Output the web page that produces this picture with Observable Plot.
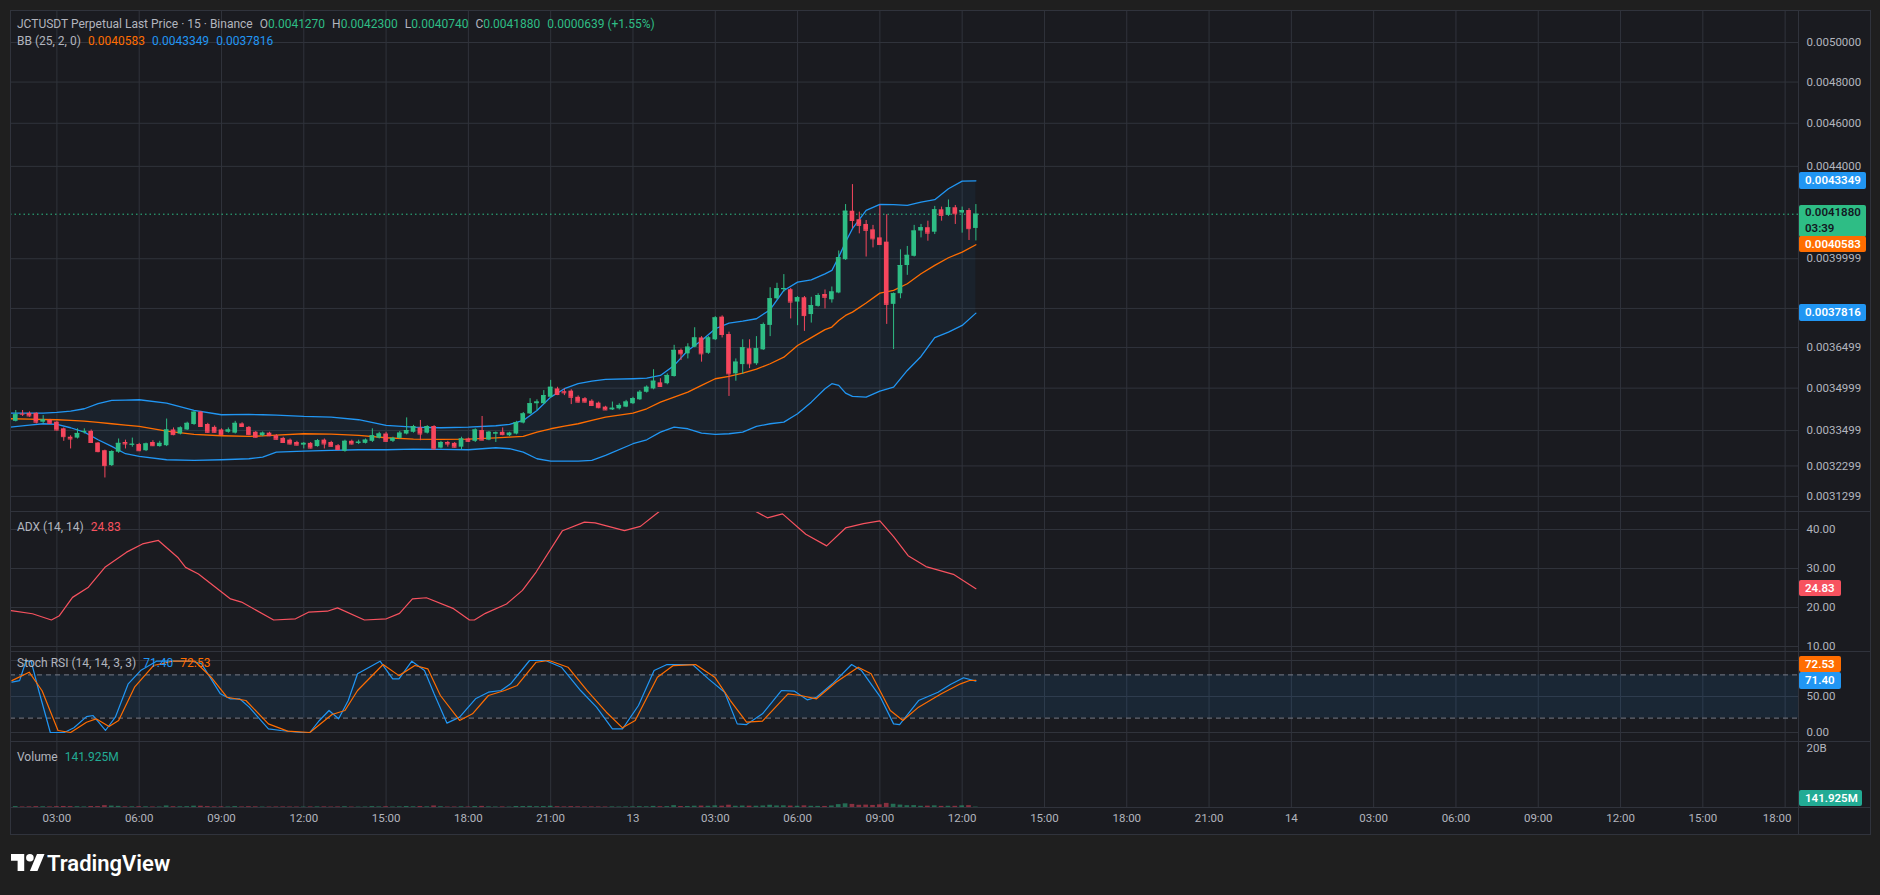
<!DOCTYPE html>
<html>
<head>
<meta charset="utf-8">
<script src="https://cdn.jsdelivr.net/npm/d3@7"></script>
<script src="https://cdn.jsdelivr.net/npm/@observablehq/plot@0.6"></script>
<style>
html,body{margin:0;padding:0;background:#1f1f1f;overflow:hidden;}
#root{position:relative;width:1880px;height:895px;overflow:hidden;background:#1f1f1f;font-family:Roboto,"Noto Sans",sans-serif;}
#chartbg{position:absolute;left:10px;top:10px;width:1860px;height:824px;background:#1a1b20;}
.pane{position:absolute;left:0;}
.pane svg{display:block;overflow:visible;}
.hline{position:absolute;height:1px;background:#30333c;}
.vline{position:absolute;width:1px;background:#30333c;}
.legend{position:absolute;left:17px;font-size:12px;line-height:14px;color:#b2b5be;white-space:nowrap;}
.legend .gap{margin-left:7px}
.tag{position:absolute;left:1799px;font-size:11.5px;font-weight:600;line-height:16.5px;padding:0 0 0 6px;border-radius:2px;box-sizing:border-box;white-space:nowrap;}
#logo{position:absolute;left:11px;top:850px;display:flex;align-items:center;color:#fff;font-size:22px;font-weight:600;font-family:Roboto,sans-serif;}
</style>
</head>
<body>
<div id="root"><div id="chartbg"></div></div>
<script>
// ---------------- DATA ----------------
const barStartHour = 1.25;          // first visible bar 01:15 (hours since 12th 00:00)
const barStepHour = 0.25;           // 15-minute bars
const open = [
0.003396,0.003382,0.003408,0.003410,0.003410,0.003379,0.003385,0.003379,0.003356,0.003327,
0.003324,0.003344,0.003347,0.003307,0.003281,0.003231,0.003276,0.003309,0.003300,0.003302,
0.003281,0.003309,0.003295,0.003298,0.003352,0.003338,0.003352,0.003371,0.003414,0.003371,
0.003361,0.003352,0.003344,0.003341,0.003373,0.003361,0.003344,0.003332,0.003341,0.003332,
0.003323,0.003317,0.003309,0.003300,0.003306,0.003295,0.003317,0.003309,0.003298,0.003279,
0.003313,0.003306,0.003306,0.003313,0.003324,0.003338,0.003313,0.003323,0.003338,0.003344,
0.003359,0.003341,0.003364,0.003290,0.003309,0.003306,0.003293,0.003321,0.003313,0.003350,
0.003317,0.003338,0.003344,0.003332,0.003338,0.003376,0.003408,0.003444,0.003444,0.003467,
0.003497,0.003487,0.003489,0.003467,0.003462,0.003453,0.003446,0.003432,0.003422,0.003426,
0.003432,0.003444,0.003458,0.003485,0.003497,0.003519,0.003516,0.003542,0.003639,0.003626,
0.003651,0.003686,0.003628,0.003679,0.003766,0.003699,0.003552,0.003586,0.003645,0.003589,
0.003641,0.003734,0.003838,0.003874,0.003874,0.003825,0.003842,0.003776,0.003808,0.003855,
0.003834,0.003861,0.003996,0.004201,0.004164,0.004144,0.004121,0.004087,0.004069,0.003816,
0.003858,0.003972,0.004010,0.004116,0.004130,0.004111,0.004207,0.004183,0.004216,0.004193,
0.004204,0.004127];
const high = [
0.003400,0.003420,0.003420,0.003415,0.003412,0.003402,0.003389,0.003382,0.003359,0.003332,
0.003356,0.003356,0.003352,0.003309,0.003283,0.003281,0.003321,0.003317,0.003324,0.003306,
0.003307,0.003315,0.003313,0.003390,0.003359,0.003363,0.003379,0.003417,0.003417,0.003375,
0.003366,0.003356,0.003359,0.003382,0.003377,0.003364,0.003347,0.003345,0.003344,0.003336,
0.003327,0.003321,0.003313,0.003309,0.003309,0.003319,0.003321,0.003313,0.003302,0.003317,
0.003317,0.003317,0.003321,0.003356,0.003344,0.003344,0.003327,0.003347,0.003394,0.003368,
0.003385,0.003367,0.003367,0.003313,0.003313,0.003309,0.003327,0.003324,0.003356,0.003399,
0.003347,0.003345,0.003359,0.003344,0.003382,0.003413,0.003462,0.003458,0.003491,0.003528,
0.003503,0.003497,0.003494,0.003472,0.003466,0.003458,0.003450,0.003435,0.003450,0.003444,
0.003456,0.003467,0.003491,0.003508,0.003567,0.003534,0.003552,0.003658,0.003644,0.003664,
0.003725,0.003691,0.003691,0.003768,0.003771,0.003708,0.003607,0.003679,0.003679,0.003691,
0.003743,0.003882,0.003900,0.003935,0.003879,0.003847,0.003847,0.003844,0.003858,0.003873,
0.003885,0.004032,0.004230,0.004318,0.004197,0.004161,0.004140,0.004226,0.004186,0.003861,
0.004037,0.004051,0.004140,0.004144,0.004158,0.004222,0.004219,0.004250,0.004226,0.004219,
0.004212,0.004230];
const low = [
0.003381,0.003380,0.003399,0.003396,0.003373,0.003373,0.003371,0.003348,0.003313,0.003287,
0.003321,0.003338,0.003306,0.003274,0.003190,0.003228,0.003272,0.003287,0.003293,0.003278,
0.003278,0.003295,0.003293,0.003295,0.003332,0.003335,0.003350,0.003368,0.003361,0.003341,
0.003341,0.003332,0.003341,0.003338,0.003361,0.003332,0.003324,0.003329,0.003329,0.003317,
0.003306,0.003300,0.003297,0.003287,0.003287,0.003293,0.003287,0.003293,0.003281,0.003276,
0.003300,0.003302,0.003304,0.003309,0.003321,0.003309,0.003309,0.003320,0.003335,0.003341,
0.003315,0.003338,0.003284,0.003287,0.003293,0.003290,0.003284,0.003309,0.003309,0.003315,
0.003315,0.003309,0.003332,0.003329,0.003335,0.003373,0.003406,0.003420,0.003441,0.003465,
0.003473,0.003473,0.003441,0.003446,0.003446,0.003434,0.003426,0.003420,0.003420,0.003422,
0.003430,0.003441,0.003456,0.003482,0.003494,0.003503,0.003512,0.003540,0.003601,0.003607,
0.003649,0.003595,0.003624,0.003676,0.003686,0.003470,0.003525,0.003550,0.003571,0.003583,
0.003639,0.003691,0.003834,0.003864,0.003759,0.003733,0.003711,0.003743,0.003805,0.003798,
0.003821,0.003858,0.003993,0.004126,0.004104,0.004007,0.004045,0.004055,0.003738,0.003642,
0.003838,0.003932,0.004007,0.004087,0.004073,0.004101,0.004158,0.004178,0.004144,0.004107,
0.004076,0.004074];
const close = [
0.003385,0.003405,0.003407,0.003401,0.003379,0.003387,0.003375,0.003352,0.003329,0.003321,
0.003340,0.003347,0.003309,0.003278,0.003231,0.003278,0.003306,0.003304,0.003303,0.003281,
0.003304,0.003298,0.003306,0.003352,0.003336,0.003359,0.003375,0.003414,0.003364,0.003344,
0.003344,0.003336,0.003352,0.003375,0.003364,0.003336,0.003327,0.003341,0.003332,0.003320,
0.003309,0.003304,0.003300,0.003306,0.003290,0.003315,0.003304,0.003296,0.003285,0.003313,
0.003304,0.003310,0.003317,0.003332,0.003338,0.003313,0.003323,0.003341,0.003350,0.003364,
0.003338,0.003364,0.003287,0.003309,0.003304,0.003293,0.003321,0.003313,0.003352,0.003317,
0.003344,0.003342,0.003336,0.003341,0.003378,0.003408,0.003444,0.003450,0.003473,0.003503,
0.003477,0.003483,0.003467,0.003450,0.003450,0.003438,0.003430,0.003422,0.003428,0.003438,
0.003450,0.003462,0.003485,0.003503,0.003525,0.003506,0.003546,0.003639,0.003626,0.003651,
0.003686,0.003626,0.003686,0.003763,0.003699,0.003552,0.003595,0.003649,0.003589,0.003645,
0.003737,0.003838,0.003878,0.003879,0.003825,0.003842,0.003772,0.003811,0.003851,0.003844,
0.003865,0.004004,0.004201,0.004161,0.004140,0.004119,0.004083,0.004059,0.003816,0.003858,
0.003972,0.004014,0.004116,0.004130,0.004107,0.004207,0.004183,0.004216,0.004190,0.004204,
0.004126,0.004188];
const volumeM = [
260,310,180,220,290,240,200,280,350,300,
260,190,330,310,620,480,390,210,230,250,
230,180,170,520,260,240,280,450,430,300,
210,220,180,310,190,260,220,150,160,180,
190,170,160,140,190,200,210,160,190,260,
150,140,170,300,210,250,170,220,330,240,
310,230,520,260,150,170,240,160,330,380,
230,180,200,150,340,330,380,280,330,420,
260,200,280,230,180,200,190,170,200,160,
190,210,280,240,380,260,300,620,330,350,
440,480,420,560,450,780,420,500,460,430,
520,760,520,560,480,420,560,410,380,360,
520,980,1250,1050,760,820,700,900,1400,1100,
820,600,640,420,460,560,380,420,400,560,
620,141.925];

// Bollinger Bands (25, 2, 0)
const bbT = [1.3,2,2.5,3,3.5,4,4.5,5,5.5,6,7,8,9,10,10.5,11,12,13,14,15,16,17,18,19,19.5,20,20.5,21,21.5,22,22.5,23,24,24.5,25,25.5,26,26.5,27,27.5,28,28.5,29,29.5,30,30.5,31,31.25,31.5,31.75,32,32.5,33,33.5,34,34.5,35,35.5,36,36.5];
const bbUpper = [0.0034107,0.0034107,0.0034107,0.0034132,0.0034177,0.0034262,0.0034440,0.0034557,0.0034568,0.0034582,
0.0034461,0.0034202,0.0034051,0.0034062,0.0034050,0.0034037,0.0033991,0.0033967,0.0033876,0.0033677,
0.0033618,0.0033597,0.0033618,0.0033667,0.0033712,0.0033851,0.0034202,0.0034675,0.0034978,0.0035159,
0.0035250,0.0035315,0.0035340,0.0035360,0.0035461,0.0035829,0.0036387,0.0036765,0.0037211,0.0037427,
0.0037504,0.0037597,0.0037949,0.0038712,0.0039045,0.0039140,0.0039380,0.0039519,0.0040066,0.0040696,
0.0041258,0.0042044,0.0042306,0.0042293,0.0042262,0.0042406,0.0042511,0.0042997,0.0043335,0.0043349];
const bbMid = [0.0033911,0.0033896,0.0033885,0.0033876,0.0033855,0.0033827,0.0033785,0.0033736,0.0033690,0.0033642,
0.0033479,0.0033365,0.0033321,0.0033297,0.0033315,0.0033341,0.0033390,0.0033376,0.0033331,0.0033252,
0.0033204,0.0033193,0.0033204,0.0033245,0.0033270,0.0033297,0.0033445,0.0033562,0.0033652,0.0033736,
0.0033851,0.0033967,0.0034107,0.0034262,0.0034497,0.0034675,0.0034855,0.0035097,0.0035340,0.0035425,
0.0035545,0.0035692,0.0035891,0.0036136,0.0036575,0.0036870,0.0037177,0.0037277,0.0037531,0.0037726,
0.0037855,0.0038210,0.0038604,0.0038712,0.0038981,0.0039385,0.0039724,0.0040040,0.0040272,0.0040583];
const bbLower = [0.0033618,0.0033687,0.0033736,0.0033712,0.0033597,0.0033445,0.0033183,0.0032955,0.0032708,0.0032617,
0.0032506,0.0032482,0.0032506,0.0032539,0.0032593,0.0032762,0.0032795,0.0032819,0.0032843,0.0032843,
0.0032863,0.0032853,0.0032843,0.0032911,0.0032877,0.0032762,0.0032539,0.0032459,0.0032459,0.0032459,
0.0032482,0.0032650,0.0033047,0.0033183,0.0033445,0.0033618,0.0033562,0.0033410,0.0033365,0.0033390,
0.0033445,0.0033642,0.0033736,0.0033792,0.0034086,0.0034497,0.0034978,0.0035159,0.0035097,0.0034819,
0.0034701,0.0034675,0.0034891,0.0035035,0.0035644,0.0036163,0.0036868,0.0037081,0.0037339,0.0037816];

// ADX (14, 14)
const adxT = [1.33,2.11,2.8,3.09,3.57,4.15,4.75,5.54,6.12,6.7,7.4,7.69,8.16,9.33,9.73,10.9,11.7,12.17,12.86,13.23,14.21,15.01,15.49,15.96,16.47,17.46,18.04,18.22,18.62,19.39,19.97,20.47,21.43,22.23,22.62,23.69,24.27,24.97,25.73,26.46,27.19,27.92,28.46,28.9,29.45,30.3,31.06,31.75,32.4,33.0,33.5,34.03,34.68,35.68,36.5];
const adxV = [19.2,18.4,16.8,17.9,22.6,25.2,30.3,34.2,36.3,37.2,32.9,30.3,28.6,22.2,21.4,16.8,17.1,18.8,19.05,19.9,16.8,17.1,18.5,22.2,22.5,19.7,16.8,16.8,18.5,20.9,24.4,29.1,39.7,41.9,41.7,39.7,40.8,44.7,47,48,47.5,46,44.7,43,44,38.8,35.8,40.4,41.5,42.2,38.2,33.3,30.5,28.5,24.83];

// Stoch RSI (14, 14, 3, 3)
const stochKT = [1.36,1.64,1.87,2.06,2.34,2.76,3.27,3.62,4.08,4.32,4.77,5.13,5.6,6.05,6.63,7.0,7.91,8.27,8.96,9.31,9.66,10.01,10.71,11.17,11.87,12.22,12.57,12.92,13.27,13.62,13.96,14.78,15.24,15.47,15.94,16.4,16.75,17.22,17.68,18.26,18.73,19.19,19.54,20.23,20.81,21.39,22.09,22.67,23.25,23.62,24.2,24.77,25.24,26.17,26.75,27.34,27.8,28.14,28.72,29.41,29.89,30.35,30.69,31.27,31.97,32.33,33.02,33.5,33.72,34.41,35.12,35.57,36.05,36.5];
const stochKV = [69.9,72,99,99,58,0,0,6.5,22,23.6,2.8,21.3,67.6,86,99,99,99,95.7,53.7,46.8,46.8,35.2,5.1,2.8,0,0,16.7,30.6,19,44.4,81.5,99,74.5,74.5,99,86,53.7,13,21.3,46.8,56,58.3,67.6,100,100,90.7,58.3,35.2,5.1,5.1,37.5,86,94.4,94.4,74.5,56,12,11,26,58.3,57.4,45.4,49,67.6,94.4,86,49,12,11,44.4,56,66.7,76,71.4];
const stochDT = [1.36,1.99,2.46,3.04,3.5,4.08,4.43,4.9,5.25,5.83,6.52,7.21,8.03,8.62,9.2,9.89,10.71,11.41,12.22,13.03,13.5,13.96,14.89,15.47,16.05,16.52,16.98,17.68,18.15,18.73,19.32,19.78,20.47,20.94,21.63,22.33,23.03,23.62,24.08,24.89,25.47,26.28,26.98,27.55,28.14,28.72,29.65,30.11,30.69,31.4,32.21,32.68,33.38,33.84,34.41,35.24,35.94,36.27,36.5];
const stochDV = [72,83.8,58,2.8,0,14.3,19,8.3,16.7,63,93,99,99,76.8,49,44.4,12,1.9,0,25,30.6,58.3,94.4,79,93,88.4,51.4,16.7,26,51.4,58.3,65.3,97.6,100,90.7,58.3,28.2,6.5,16.7,76.8,93,94.4,76.8,44.4,14.3,15.7,53.7,51.4,46.8,69.9,90.7,81.5,30.6,16.7,35.2,53.7,67.6,72.2,72.53];
const stochBands = [20, 80];

// axes / ticks
const xDomain = [1.3086, 66.487];                      // visible hours range
const priceDomain = [0.0030815, 0.0051679];
const priceGrid = [0.0050000,0.0048000,0.0046000,0.0044000,0.0039999,0.0037999,0.0036499,0.0034999,0.0033499,0.0032299,0.0031299];
const priceTickLabels = [0.0050000,0.0048000,0.0046000,0.0044000,0.0039999,0.0036499,0.0034999,0.0033499,0.0032299,0.0031299];
const adxDomain = [8.72, 44.62];
const adxTicks = [10, 20, 30, 40];
const stochDomain = [-12.5, 112.5];
const stochGrid = [0, 50, 100];
const stochTickLabels = [0, 50];
const volDomainM = [0, 22400];
const volTicksM = [20000];
const volTickLabels = ["20B"];
const timeTicks = [3,6,9,12,15,18,21,24,27,30,33,36,39,42,45,48,51,54,57,60,63,66];
const timeLabels = ["03:00","06:00","09:00","12:00","15:00","18:00","21:00","13","03:00","06:00","09:00","12:00","15:00","18:00","21:00","14","03:00","06:00","09:00","12:00","15:00","18:00"];

// texts
const headerTitle = "JCTUSDT Perpetual Last Price · 15 · Binance";
const ohlcLetters = ["O","H","L","C"];
const changeText = "0.0000639 (+1.55%)";
const bbLabel = "BB (25, 2, 0)";
const adxLabel = "ADX (14, 14)";
const stochLabel = "Stoch RSI (14, 14, 3, 3)";
const volLabel = "Volume";
const countdown = "03:39";

// ---------------- STYLE ----------------
const C = {grid:"#30333b", text:"#b2b5be", up:"#2ebd85", down:"#f6465d", blue:"#2196f3", orange:"#ff6d00", adx:"#f7525f", volUp:"rgba(46,189,133,0.5)", volDown:"rgba(246,70,93,0.5)", vtag:"#22ab94"};
const FONT = "Roboto, 'Noto Sans', sans-serif";
const bodyHalf = 0.085;
const W = 1880, ML = 10, MR = 82;
const paneStyle = {background:"transparent", color:C.text, fontFamily:FONT, fontSize:"11.5px", overflow:"visible"};

const bars = open.map((o, i) => ({t: barStartHour + i * barStepHour, open: o, high: high[i], low: low[i], close: close[i], vol: volumeM[i]}));
const colorOf = d => d.close >= d.open ? C.up : C.down;
const bb = bbT.map((t, i) => ({t, upper: bbUpper[i], mid: bbMid[i], lower: bbLower[i]}));
const adx = adxT.map((t, i) => ({t, v: adxV[i]}));
const stK = stochKT.map((t, i) => ({t, v: stochKV[i]}));
const stD = stochDT.map((t, i) => ({t, v: stochDV[i]}));
const last = a => a[a.length - 1];

const root = document.getElementById("root");
function addPane(top, plot) {
  const d = document.createElement("div");
  d.className = "pane"; d.style.top = top + "px";
  d.appendChild(plot); root.appendChild(d);
}
function pix(plot, v, fb) {
  try { const s = plot.scale("y"); if (s && typeof s.apply === "function") { const r = s.apply(v); if (isFinite(r)) return r; } } catch (e) {}
  return fb(v);
}
const vgrid = () => Plot.ruleX(timeTicks, {x: d => d, stroke: C.grid});

// ---------------- MAIN PANE ----------------
const mainTop = 10, mainH = 501;
const mainPlot = Plot.plot({
  width: W, height: mainH, marginLeft: ML, marginRight: MR, marginTop: 0, marginBottom: 0,
  style: paneStyle,
  x: {domain: xDomain, axis: null},
  y: {type: "log", domain: priceDomain, axis: "right", ticks: priceTickLabels, tickFormat: d => d.toFixed(7), tickSize: 0, tickPadding: 8, label: null},
  marks: [
    Plot.ruleY(priceGrid, {y: d => d, stroke: C.grid}),
    vgrid(),
    Plot.areaY(bb, {x: "t", y1: "lower", y2: "upper", fill: C.blue, fillOpacity: 0.06, clip: true}),
    Plot.line(bb, {x: "t", y: "upper", stroke: C.blue, strokeWidth: 1.3, clip: true}),
    Plot.line(bb, {x: "t", y: "lower", stroke: C.blue, strokeWidth: 1.3, clip: true}),
    Plot.line(bb, {x: "t", y: "mid", stroke: C.orange, strokeWidth: 1.3, clip: true}),
    Plot.ruleY([last(close)], {y: d => d, stroke: C.up, strokeDasharray: "1.5,3", strokeWidth: 1}),
    Plot.ruleX(bars, {x: "t", y1: "low", y2: "high", stroke: colorOf, strokeWidth: 1, clip: true}),
    Plot.rect(bars, {x1: d => d.t - bodyHalf, x2: d => d.t + bodyHalf, y1: "open", y2: "close", fill: colorOf, clip: true}),
    Plot.ruleY(bars, {x1: d => d.t - bodyHalf, x2: d => d.t + bodyHalf, y: "close", stroke: colorOf, strokeWidth: 1, clip: true})
  ]
});
addPane(mainTop, mainPlot);

// ---------------- ADX PANE ----------------
const adxTop = 511, adxH = 140;
const adxPlot = Plot.plot({
  width: W, height: adxH, marginLeft: ML, marginRight: MR, marginTop: 0, marginBottom: 0,
  style: paneStyle,
  x: {domain: xDomain, axis: null},
  y: {domain: adxDomain, axis: "right", ticks: adxTicks, tickFormat: d => d.toFixed(2), tickSize: 0, tickPadding: 8, label: null},
  marks: [
    Plot.ruleY(adxTicks, {y: d => d, stroke: C.grid}),
    vgrid(),
    Plot.line(adx, {x: "t", y: "v", stroke: C.adx, strokeWidth: 1.2, clip: true})
  ]
});
addPane(adxTop, adxPlot);

// ---------------- STOCH RSI PANE ----------------
const stTop = 651, stH = 90;
const stPlot = Plot.plot({
  width: W, height: stH, marginLeft: ML, marginRight: MR, marginTop: 0, marginBottom: 0,
  style: paneStyle,
  x: {domain: xDomain, axis: null},
  y: {domain: stochDomain, axis: "right", ticks: stochTickLabels, tickFormat: d => d.toFixed(2), tickSize: 0, tickPadding: 8, label: null},
  marks: [
    Plot.ruleY(stochGrid, {y: d => d, stroke: C.grid}),
    vgrid(),
    Plot.rect([stochBands], {x1: () => xDomain[0], x2: () => xDomain[1], y1: d => d[0], y2: d => d[1], fill: C.blue, fillOpacity: 0.1}),
    Plot.ruleY(stochBands, {y: d => d, stroke: "#787b86", strokeDasharray: "5,4", strokeWidth: 1}),
    Plot.line(stK, {x: "t", y: "v", stroke: C.blue, strokeWidth: 1.2, clip: true}),
    Plot.line(stD, {x: "t", y: "v", stroke: C.orange, strokeWidth: 1.2, clip: true})
  ]
});
addPane(stTop, stPlot);

// ---------------- VOLUME PANE + TIME AXIS ----------------
const volTop = 741, volH = 93, volMB = 27;
const volPlot = Plot.plot({
  width: W, height: volH, marginLeft: ML, marginRight: MR, marginTop: 0, marginBottom: volMB,
  style: paneStyle,
  x: {domain: xDomain, axis: null},
  y: {domain: volDomainM, axis: "right", ticks: volTicksM, tickFormat: d => volTickLabels[volTicksM.indexOf(d)], tickSize: 0, tickPadding: 8, label: null},
  marks: [
    vgrid(),
    Plot.rect(bars, {x1: d => d.t - bodyHalf, x2: d => d.t + bodyHalf, y1: () => 0, y2: "vol", fill: d => d.close >= d.open ? C.volUp : C.volDown, clip: true}),
    Plot.text(timeTicks.slice(0, -1), {x: d => d, text: (d, i) => timeLabels[i], frameAnchor: "bottom", dy: 14, fill: C.text, fontSize: 11.5}),
    Plot.text(timeTicks.slice(-1), {x: d => d, text: () => last(timeLabels), frameAnchor: "bottom", dy: 14, dx: -8, fill: C.text, fontSize: 11.5})
  ]
});
addPane(volTop, volPlot);

// ---------------- FRAME LINES ----------------
function hline(y, x0, x1) { const d = document.createElement("div"); d.className = "hline"; d.style.top = y + "px"; d.style.left = x0 + "px"; d.style.width = (x1 - x0) + "px"; root.appendChild(d); }
function vline(x, y0, y1) { const d = document.createElement("div"); d.className = "vline"; d.style.left = x + "px"; d.style.top = y0 + "px"; d.style.height = (y1 - y0) + "px"; root.appendChild(d); }
[adxTop, stTop, volTop, 807].forEach(y => hline(y, 10, 1870));
hline(10, 10, 1870); hline(834, 10, 1870);
vline(10, 10, 835); vline(1798, 10, 835); vline(1870, 10, 835);

// ---------------- LEGENDS ----------------
function legend(top, parts) {
  const d = document.createElement("div"); d.className = "legend"; d.style.top = top + "px";
  parts.forEach(([txt, col, gap]) => { const s = document.createElement("span"); s.textContent = txt; if (col) s.style.color = col; if (gap) s.className = "gap"; d.appendChild(s); });
  root.appendChild(d);
}
const lastBar = last(bars);
const ohlcVals = [lastBar.open, lastBar.high, lastBar.low, lastBar.close];
const hdr = [[headerTitle, null, false]];
ohlcLetters.forEach((l, i) => { hdr.push([l, null, true]); hdr.push([ohlcVals[i].toFixed(7), C.up, false]); });
hdr.push([changeText, C.up, true]);
legend(17, hdr);
legend(34, [[bbLabel, null, false], [last(bbMid).toFixed(7), C.orange, true], [last(bbUpper).toFixed(7), C.blue, true], [last(bbLower).toFixed(7), C.blue, true]]);
legend(520, [[adxLabel, null, false], [last(adxV).toFixed(2), C.adx, true]]);
legend(656, [[stochLabel, null, false], [last(stochKV).toFixed(2), C.blue, true], [last(stochDV).toFixed(2), C.orange, true]]);
legend(750, [[volLabel, null, false], [last(volumeM).toFixed(3) + "M", C.vtag, true]]);

// ---------------- PRICE-SCALE TAGS ----------------
function tag(center, lines, bg, fg, w) {
  const d = document.createElement("div"); d.className = "tag";
  d.style.top = (center - 8.25) + "px"; d.style.width = w + "px";
  d.style.height = (lines.length * 15.5 + 1) + "px";
  d.style.background = bg; d.style.color = fg;
  d.style.lineHeight = lines.length > 1 ? "15.5px" : "16.5px";
  d.innerHTML = lines.map(l => "<div>" + l + "</div>").join("");
  root.appendChild(d);
}
const fbMain = v => mainH * (Math.log(priceDomain[1]) - Math.log(v)) / (Math.log(priceDomain[1]) - Math.log(priceDomain[0]));
const fbLin = (dom, h, mb) => v => (h - mb) * (dom[1] - v) / (dom[1] - dom[0]);
tag(mainTop + pix(mainPlot, last(bbUpper), fbMain), [last(bbUpper).toFixed(7)], C.blue, "#fff", 67);
tag(mainTop + pix(mainPlot, last(close), fbMain), [last(close).toFixed(7), countdown], C.up, "#131722", 67);
tag(mainTop + pix(mainPlot, last(bbMid), fbMain), [last(bbMid).toFixed(7)], C.orange, "#fff", 67);
tag(mainTop + pix(mainPlot, last(bbLower), fbMain), [last(bbLower).toFixed(7)], C.blue, "#fff", 67);
tag(adxTop + pix(adxPlot, last(adxV), fbLin(adxDomain, adxH, 0)), [last(adxV).toFixed(2)], C.adx, "#fff", 42);
const kY = stTop + pix(stPlot, last(stochKV), fbLin(stochDomain, stH, 0));
tag(kY, [last(stochKV).toFixed(2)], C.blue, "#fff", 42);
tag(kY - 16.5, [last(stochDV).toFixed(2)], C.orange, "#fff", 42);
const vY = Math.min(volTop + pix(volPlot, last(volumeM), fbLin(volDomainM, volH, volMB)), 807 - 9);
tag(vY, [last(volumeM).toFixed(3) + "M"], C.vtag, "#fff", 63);

// ---------------- LOGO ----------------
const logo = document.createElement("div"); logo.id = "logo";
logo.innerHTML = '<svg width="34" height="27" viewBox="0 0 36 28"><path d="M14 22H7V11H0V4h14v18z" fill="#fff"/><circle cx="20" cy="8" r="4" fill="#fff"/><path d="M28 22h-8l7.5-18h8z" fill="#fff"/></svg><span style="margin-left:2px">TradingView</span>';
root.appendChild(logo);
</script>
</body>
</html>
